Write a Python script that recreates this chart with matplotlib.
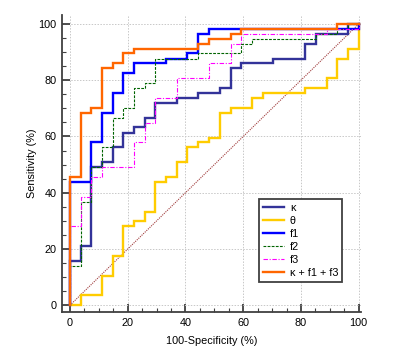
import numpy as np
import matplotlib
matplotlib.use('Agg')
import matplotlib.pyplot as plt

# ROC corner points, 100-specificity (%) and sensitivity (%)
kappa_fpr = [0, 3.7, 7.4, 11.1, 14.8, 18.5, 22.2, 25.9, 29.6, 37.0, 44.4, 51.9, 55.6, 59.3, 70.4, 81.5, 85.2, 96.3, 100]
kappa_tpr = [15.8, 21.1, 49.1, 50.9, 56.1, 61.4, 63.2, 66.7, 71.9, 73.7, 75.4, 77.2, 84.2, 86.0, 87.7, 93.0, 96.5, 100, 100]

theta_fpr = [0, 3.7, 11.1, 14.8, 18.5, 22.2, 25.9, 29.6, 33.3, 37.0, 40.7, 44.4, 48.1, 51.9, 55.6, 63.0, 66.7, 81.5, 88.9, 92.6, 96.3, 100]
theta_tpr = [0, 3.5, 10.5, 17.5, 28.1, 29.8, 33.3, 43.9, 45.6, 50.9, 56.1, 57.9, 59.6, 68.4, 70.2, 73.7, 75.4, 77.2, 80.7, 87.7, 91.2, 100]

f1_fpr = [0, 7.4, 11.1, 14.8, 18.5, 22.2, 33.3, 40.7, 44.4, 48.1, 100]
f1_tpr = [43.9, 57.9, 68.4, 75.4, 82.5, 86.0, 87.7, 89.5, 96.5, 98.2, 100]

f2_fpr = [0, 3.7, 7.4, 11.1, 14.8, 18.5, 22.2, 25.9, 29.6, 44.4, 59.3, 63.0, 85.2, 92.6, 96.3, 100]
f2_tpr = [14.0, 36.8, 49.1, 56.1, 66.7, 70.2, 77.2, 78.9, 87.7, 89.5, 93.0, 94.7, 96.5, 98.2, 100, 100]

f3_fpr = [0, 3.7, 7.4, 11.1, 22.2, 25.9, 29.6, 37.0, 48.1, 55.6, 59.3, 88.9, 100]
f3_tpr = [28.1, 38.6, 45.6, 49.1, 57.9, 64.9, 73.7, 80.7, 86.0, 92.9, 96.5, 98.2, 100]

combo_fpr = [0, 3.7, 7.4, 11.1, 14.8, 18.5, 22.2, 44.4, 48.1, 55.6, 59.3, 92.6, 100]
combo_tpr = [45.6, 68.4, 70.2, 84.2, 86.0, 89.5, 91.2, 93.0, 94.7, 96.5, 98.2, 100, 100]

labels = ['\u03ba', '\u03b8', 'f1', 'f2', 'f3', '\u03ba + f1 + f3']

plt.rcParams['font.family'] = ['Liberation Sans', 'DejaVu Sans']

fig = plt.figure(figsize=(4, 3.56), dpi=100)
ax = fig.add_axes([0.155, 0.1236, 0.7475, 0.8344])

# chance line
ax.plot([0, 100], [0, 100], color='#a03c3c', lw=0.8, ls=(0, (1, 1)), zorder=2)


def roc(fpr, tpr, **kw):
    x = [0] + list(fpr)
    y = [0] + list(tpr)
    ax.plot(x, y, drawstyle='steps-post', solid_joinstyle='miter', **kw)


roc(kappa_fpr, kappa_tpr, color='#333399', lw=1.7, label=labels[0], zorder=3)
roc(theta_fpr, theta_tpr, color='#ffcc00', lw=1.7, label=labels[1], zorder=3)
roc(f1_fpr, f1_tpr, color='#0000ff', lw=1.7, label=labels[2], zorder=3)
roc(f2_fpr, f2_tpr, color='#006400', lw=0.8, ls=(0, (2.5, 1.2)), label=labels[3], zorder=3)
roc(f3_fpr, f3_tpr, color='#ff00ff', lw=0.8, ls=(0, (4, 1.5, 1, 1.5)), label=labels[4], zorder=3)
roc(combo_fpr, combo_tpr, color='#ff6600', lw=1.7, label=labels[5], zorder=4)

ax.set_xlim(-2.77, 100.8)
ax.set_ylim(-2.4, 103.2)
ax.set_xticks(np.arange(0, 101, 20))
ax.set_yticks(np.arange(0, 101, 20))
ax.set_xticks(np.arange(0, 101, 5), minor=True)
ax.set_yticks(np.arange(0, 101, 5), minor=True)
ax.grid(True, which='major', color='#c8c8c8', ls=(0, (1.5, 1.5)), lw=0.7)

for s in ['top', 'right']:
    ax.spines[s].set_visible(False)
for s in ['left', 'bottom']:
    ax.spines[s].set_color('#404040')
    ax.spines[s].set_linewidth(1.3)

ax.tick_params(which='major', direction='in', length=5.5, width=1.3, color='#404040',
               labelsize=7.8, pad=4)
ax.tick_params(which='minor', direction='in', length=3, width=0.8, color='#404040')

ax.set_xlabel('100-Specificity (%)', fontsize=7.8, labelpad=6)
ax.set_ylabel('Sensitivity (%)', fontsize=7.8, labelpad=1)

leg = ax.legend(loc='upper left', bbox_to_anchor=(259 / 400, 1 - 199 / 356),
                bbox_transform=fig.transFigure, fontsize=7.8, frameon=True,
                fancybox=False, handlelength=2.0, handletextpad=0.5,
                labelspacing=0.28, borderpad=0.35, borderaxespad=0)
leg.get_frame().set_edgecolor('#404040')
leg.get_frame().set_linewidth(1.3)
leg.get_frame().set_alpha(1)

fig.savefig('out.png', dpi=100)
